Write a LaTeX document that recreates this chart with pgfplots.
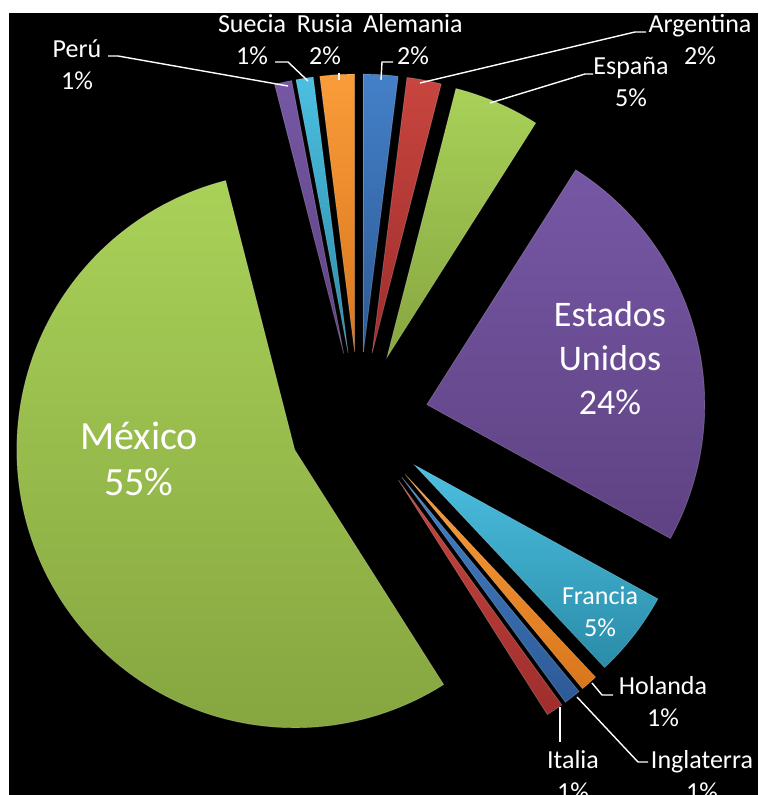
\documentclass[border=0pt]{standalone}
\usepackage{pgfplots}
\pgfplotsset{compat=1.18}
\usepackage{pgfplotstable}
\usepackage{fontspec}
\setmainfont{Carlito}

% colores de las porciones (claro arriba, oscuro abajo)
\definecolor{verdeA}{HTML}{A9D158}\definecolor{verdeB}{HTML}{86A640}
\definecolor{moradoA}{HTML}{7657A5}\definecolor{moradoB}{HTML}{5F4283}
\definecolor{azulA}{HTML}{4480C8}\definecolor{azulB}{HTML}{2C5A96}
\definecolor{rojoA}{HTML}{C8453F}\definecolor{rojoB}{HTML}{9E2E2C}
\definecolor{naranjaA}{HTML}{FA9C3A}\definecolor{naranjaB}{HTML}{D9761C}
\definecolor{cianA}{HTML}{4CBFE0}\definecolor{cianB}{HTML}{2A8CA8}

% porcentajes, en sentido horario desde las 12
\pgfplotstableread[col sep=comma]{
pais,valor,tono
Alemania,2,azul
Argentina,2,rojo
España,5,verde
Estados Unidos,24,morado
Francia,5,cian
Holanda,1,naranja
Inglaterra,1,azul
Italia,1,rojo
México,55,verde
Perú,1,morado
Suecia,1,cian
Rusia,2,naranja
}\datos

\def\R{278}   % radio
\def\D{70}    % separacion (explode)
\def\CX{359}\def\CY{373}
\def\cum{0}

\newcommand\porcion[2]{%
  \pgfmathsetmacro\aone{90-3.6*\cum}%
  \pgfmathsetmacro\atwo{90-3.6*(\cum+#1)}%
  \pgfmathsetmacro\amid{(\aone+\atwo)/2}%
  \pgfmathsetmacro\ox{\CX+\D*cos(\amid)}%
  \pgfmathsetmacro\oy{\CY+\D*sin(\amid)}%
  \pgfmathtruncatemacro\ns{max(4,#1*3)}%
  \edef\hazla{\noexpand\addplot[draw=white, draw opacity=0.2, line width=0.8pt,
      top color=#2A, bottom color=#2B, domain=\atwo:\aone, samples=\ns,
      variable=\noexpand\t]
    ({\ox+\R*cos(\noexpand\t)}, {\oy+\R*sin(\noexpand\t)}) -- (axis cs:\ox,\oy) -- cycle;}%
  \hazla
  \pgfmathsetmacro\nuevo{\cum+#1}\xdef\cum{\nuevo}%
}

\begin{document}
\begin{tikzpicture}
\begin{axis}[
  width=758pt, height=795pt, scale only axis,
  xmin=0, xmax=758, ymin=0, ymax=795,
  hide axis, clip=true,
]
% fondo
\addplot[fill=white, draw=none] coordinates {(0,0) (758,0) (758,795) (0,795)} -- cycle;
\addplot[fill=black, draw=none] coordinates {(9,0) (758,0) (758,782) (9,782)} -- cycle;

\pgfplotstablegetrowsof{\datos}
\pgfmathtruncatemacro\ultima{\pgfplotsretval-1}
\pgfplotsforeachungrouped \i in {0,...,\ultima}{%
  \pgfplotstablegetelem{\i}{valor}\of\datos \let\val\pgfplotsretval
  \pgfplotstablegetelem{\i}{tono}\of\datos \let\tono\pgfplotsretval
  \edef\llama{\noexpand\porcion{\val}{\tono}}\llama
}

% lineas guia
\pgfplotsset{every axis plot/.append style={}}
\addplot[white, line width=1.4pt] coordinates {(108,739) (118,739) (288,709)};
\addplot[white, line width=1.4pt] coordinates {(275,733) (288,733) (308,714)};
\addplot[white, line width=1.4pt] coordinates {(339,722) (339,715)};
\addplot[white, line width=1.4pt] coordinates {(393,733) (382,733) (381,715)};
\addplot[white, line width=1.4pt] coordinates {(420,712) (635,763) (646,763)};
\addplot[white, line width=1.4pt] coordinates {(490,692) (585,721) (593,721)};
\addplot[white, line width=1.4pt] coordinates {(592,112) (602,100) (613,100)};
\addplot[white, line width=1.4pt] coordinates {(577,98) (638,33) (648,33)};
\addplot[white, line width=1.4pt] coordinates {(560,88) (560,53)};

% etiquetas
\tikzset{et/.style={text=white, align=center, inner sep=0pt,
  font=\fontsize{26}{32}\selectfont}}
\node[et] at (axis cs:77,730) {Perú\\1\%};
\node[et] at (axis cs:252,755) {Suecia\\1\%};
\node[et] at (axis cs:325,755) {Rusia\\2\%};
\node[et] at (axis cs:413,755) {Alemania\\2\%};
\node[et] at (axis cs:700,755) {Argentina\\2\%};
\node[et] at (axis cs:631,713) {España\\5\%};
\node[et] at (axis cs:600,183) {Francia\\5\%};
\node[et] at (axis cs:663,93) {Holanda\\1\%};
\node[et] at (axis cs:573,19) {Italia\\1\%};
\node[et] at (axis cs:702,19) {Inglaterra\\1\%};
\node[et, font=\fontsize{36}{44}\selectfont] at (axis cs:610,437) {Estados\\Unidos\\24\%};
\node[et, font=\fontsize{40}{46}\selectfont] at (axis cs:139,336) {México\\55\%};
\end{axis}
\end{tikzpicture}
\end{document}
